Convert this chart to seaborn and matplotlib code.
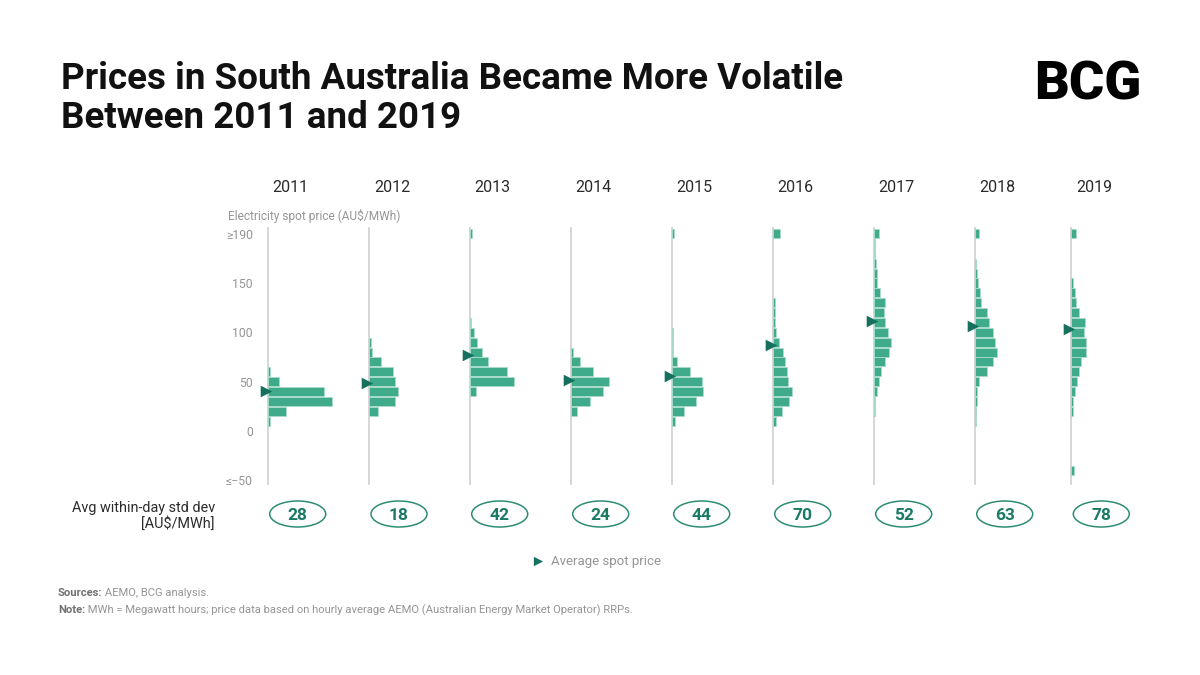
import numpy as np
import pandas as pd
import matplotlib
matplotlib.use("Agg")
import matplotlib.pyplot as plt
from matplotlib.patches import Ellipse
import seaborn as sns

# ---------------- data ----------------
years = ["2011", "2012", "2013", "2014", "2015", "2016", "2017", "2018", "2019"]
# price bins (AU$/MWh), top bin = overflow (>=190), bottom bin = underflow (<=-50)
price_bins = [200, 190, 180, 170, 160, 150, 140, 130, 120, 110, 100, 90, 80,
              70, 60, 50, 40, 30, 20, 10, 0, -10, -20, -30, -40, -50]
# relative share of hours per bin
share_2011 = [0, 0, 0, 0, 0, 0, 0, 0, 0, 0, 0, 0, 0, 0, 2.3, 11.7, 56.7, 64.3, 18.7, 2.3, 0, 0, 0, 0, 0, 0]
share_2012 = [0, 0, 0, 0, 0, 0, 0, 0, 0, 0, 0, 1.7, 3.3, 12, 23.7, 25.7, 28.7, 25.7, 9.3, 0, 0, 0, 0, 0, 0, 0]
share_2013 = [2, 0, 0, 0, 0, 0, 0, 0, 0, 1.3, 4, 7, 12.7, 18.7, 37, 44, 6, 0, 0, 0, 0, 0, 0, 0, 0, 0]
share_2014 = [0, 0, 0, 0, 0, 0, 0, 0, 0, 0, 0, 0, 2.7, 9.3, 22.7, 38.7, 32.7, 19, 6.3, 0, 0, 0, 0, 0, 0, 0]
share_2015 = [2, 0, 0, 0, 0, 0, 0, 0, 0, 0, 1.3, 1.3, 1.3, 5.7, 18.7, 30, 31, 24.3, 12.7, 3, 0, 0, 0, 0, 0, 0]
share_2016 = [7.3, 0, 0, 0, 0, 0, 0, 2.3, 2.3, 2.3, 3.7, 6.3, 10.7, 12.3, 14.3, 15.3, 19, 16, 9.3, 3.3, 0, 0, 0, 0, 0, 0]
share_2017 = [5, 1, 1, 2, 3, 3, 6, 11.7, 10.7, 11.7, 14.7, 17.7, 15.7, 11.7, 7.7, 5, 3, 1, 1, 0, 0, 0, 0, 0, 0, 0]
share_2018 = [4.3, 0, 0, 1.7, 2.7, 3.7, 5.3, 6.3, 12, 14.3, 18, 20.7, 22, 18, 12, 4.3, 2.7, 2.7, 1.3, 1.3, 0, 0, 0, 0, 0, 0]
share_2019 = [5, 0, 0, 0, 0, 1.7, 3.3, 4.3, 8, 14, 13, 15, 15, 10, 8, 6, 3.3, 1.7, 1.7, 0, 0, 0, 0, 0, 2.3, 0]
shares = [share_2011, share_2012, share_2013, share_2014, share_2015,
          share_2016, share_2017, share_2018, share_2019]
avg_price = [41, 49, 77, 52, 56, 87, 111, 106, 103]
std_dev = [28, 18, 42, 24, 44, 70, 52, 63, 78]
tick_values = [200, 150, 100, 50, 0, -50]
tick_labels = ["≥190", "150", "100", "50", "0", "≤−50"]

rows = []
for yr, sh in zip(years, shares):
    for b, s in zip(price_bins, sh):
        if s > 0:
            rows.append({"year": yr, "price": b, "share": s})
df = pd.DataFrame(rows)

# ---------------- style ----------------
sns.set_theme(style="white")
plt.rcParams['font.family'] = ['Roboto', 'DejaVu Sans']

BAR = "#3FAB8B"
EDGE = "#A9DCCB"
ARROW = "#16705E"
TEAL_TXT = "#1A7A64"
ELL = "#2E8C76"
GREY = "#959595"
DARK = "#2B2B2B"

W, H = 1200, 675
fig = plt.figure(figsize=(12, 6.75), dpi=100)
fig.patch.set_facecolor("white")

over = fig.add_axes([0, 0, 1, 1])
over.set_xlim(0, W)
over.set_ylim(H, 0)
over.axis("off")

base_x = [267.7, 369, 469.7, 570.7, 671.7, 772.7, 873.7, 974.7, 1071.3]
y_lo, y_hi = -55, 207
ax_bottom = (H - 485.3) / H
ax_top = (H - 226.7) / H

for i, yr in enumerate(years):
    bx = base_x[i]
    ax = fig.add_axes([(bx - 12) / W, ax_bottom, 100 / W, ax_top - ax_bottom])
    ax.set_facecolor("none")
    sub = df[df["year"] == yr]
    sns.barplot(data=sub, x="share", y="price", orient="y", native_scale=True,
                color=BAR, saturation=1, edgecolor=EDGE, linewidth=0.6,
                width=0.92, errorbar=None, ax=ax, zorder=3)
    ax.axvline(0, color="#D3D3D3", lw=1.3, zorder=1)
    sns.scatterplot(x=[-2.0], y=[avg_price[i]], marker=">", s=70, color=ARROW,
                    linewidth=0, ax=ax, zorder=5)
    ax.set_xlim(-12, 88)
    ax.set_ylim(y_lo, y_hi)
    ax.set_xlabel("")
    ax.set_ylabel("")
    ax.set_xticks([])
    for sp in ax.spines.values():
        sp.set_visible(False)
    if i == 0:
        ax.set_yticks(tick_values)
        ax.set_yticklabels(tick_labels, fontsize=8.8, color=GREY)
        ax.tick_params(axis="y", length=0, pad=2)
    else:
        ax.set_yticks([])

    # year label
    over.text(bx + 23, 187, yr, ha="center", va="center", fontsize=11.5, color=DARK)
    # std dev ellipse
    over.add_patch(Ellipse((bx + 30, 514), 56, 26, facecolor="none",
                           edgecolor=ELL, lw=1.1))
    over.text(bx + 30, 515, str(std_dev[i]), ha="center", va="center",
              fontsize=12.5, fontweight="bold", color=TEAL_TXT)

# titles
over.text(61, 89, "Prices in South Australia Became More Volatile", fontsize=26.5,
          fontweight="bold", color="#111111", va="baseline", ha="left")
over.text(61, 128, "Between 2011 and 2019", fontsize=26.5,
          fontweight="bold", color="#111111", va="baseline", ha="left")
over.text(1034, 100, "BCG", fontsize=39, fontweight="black", color="black",
          va="baseline", ha="left")

over.text(228, 216, "Electricity spot price (AU$/MWh)", fontsize=8.6, color=GREY,
          va="center", ha="left")

over.text(215, 508, "Avg within-day std dev", fontsize=10.4, color=DARK,
          va="center", ha="right")
over.text(215, 524, "[AU$/MWh]", fontsize=10.4, color=DARK, va="center", ha="right")

# legend
over.scatter([538], [561], marker=">", s=45, color=ARROW, linewidths=0)
over.text(551, 561, "Average spot price", fontsize=9.5, color=GREY,
          va="center", ha="left")

# footer
t1 = over.text(58, 593, "Sources:", fontsize=8.1, fontweight="bold", color="#707070",
               va="center", ha="left")
over.annotate(" AEMO, BCG analysis.", xy=(1, 0.5), xycoords=t1, fontsize=8.1,
              color=GREY, va="center", ha="left")
t2 = over.text(58, 610, "Note:", fontsize=8.1, fontweight="bold", color="#707070",
               va="center", ha="left")
over.annotate(" MWh = Megawatt hours; price data based on hourly average AEMO "
              "(Australian Energy Market Operator) RRPs.", xy=(1, 0.5), xycoords=t2,
              fontsize=8.1, color=GREY, va="center", ha="left")

fig.savefig("out.png", dpi=100, facecolor="white")
